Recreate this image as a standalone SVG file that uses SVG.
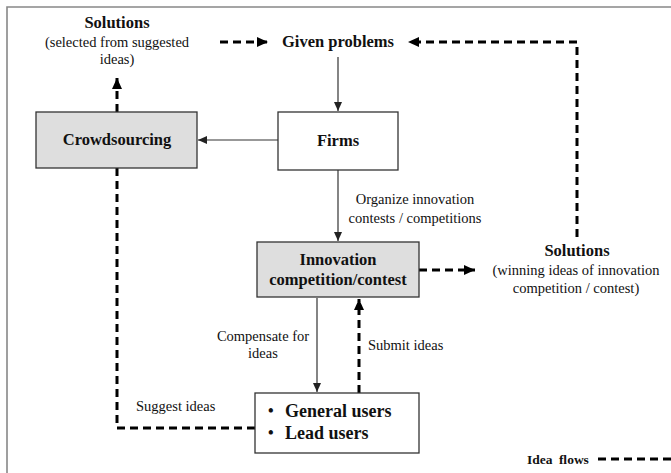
<svg xmlns="http://www.w3.org/2000/svg" width="671" height="473" viewBox="0 0 671 473" font-family="'Liberation Serif', 'Times New Roman', 'DejaVu Serif', serif">
<defs>
<marker id="solidHead" markerWidth="10" markerHeight="10" refX="9" refY="5" orient="auto" markerUnits="userSpaceOnUse">
<path d="M0,1 L9,5 L0,9 Z" fill="#222"/>
</marker>
<marker id="dashHead" markerWidth="12" markerHeight="12" refX="11" refY="6" orient="auto" markerUnits="userSpaceOnUse">
<path d="M0,1 L11,6 L0,11 Z" fill="#000"/>
</marker>
</defs>
<style>
text{fill:#111;}
.b{font-weight:bold;font-size:16.5px;}
.r{font-size:14.5px;}
.box{stroke:#333;stroke-width:1.3;}
.grey{fill:#dedede;}
.white{fill:#fff;}
.solid{stroke:#333;stroke-width:1.2;fill:none;marker-end:url(#solidHead);}
.dash{stroke:#000;stroke-width:3;stroke-dasharray:8,5;fill:none;}
.dasharrow{marker-end:url(#dashHead);}
</style>
<rect width="671" height="473" fill="#fff"/>
<path d="M7,474 V7 H672" fill="none" stroke="#888" stroke-width="1.6"/>

<g id="connectors">
<line class="solid" x1="338" y1="57" x2="338" y2="111"/>
<line class="solid" x1="278" y1="140" x2="198" y2="140"/>
<line class="solid" x1="338" y1="170" x2="338" y2="241"/>
<line class="solid" x1="317" y1="298" x2="317" y2="392"/>
<path class="dash dasharrow" d="M117,112 V78"/>
<path class="dash dasharrow" d="M220,42 H268"/>
<path class="dash dasharrow" d="M577,237 V42 H408"/>
<path class="dash dasharrow" d="M419,270 H475"/>
<path class="dash dasharrow" d="M359,393 V299"/>
<path class="dash" d="M255,428 H117 V168"/>
<text class="r" x="263" y="341" text-anchor="middle">Compensate for</text>
<text class="r" x="263" y="358" text-anchor="middle">ideas</text>
<text class="r" x="368" y="350">Submit ideas</text>
<text class="r" x="136" y="411">Suggest ideas</text>
<text class="r" x="415" y="204" text-anchor="middle">Organize innovation</text>
<text class="r" x="415" y="223" text-anchor="middle">contests / competitions</text>
</g>

<g id="solutions-left">
<text class="b" x="117" y="28" text-anchor="middle">Solutions</text>
<text class="r" x="117" y="47" text-anchor="middle">(selected from suggested</text>
<text class="r" x="117" y="64" text-anchor="middle">ideas)</text>
</g>

<g id="given-problems">
<text class="b" x="338" y="47" text-anchor="middle">Given problems</text>
</g>

<g id="crowdsourcing">
<rect class="box grey" x="36" y="112" width="161" height="56"/>
<text class="b" x="117" y="145" text-anchor="middle">Crowdsourcing</text>
</g>

<g id="firms">
<rect class="box white" x="278" y="112" width="120" height="58"/>
<text class="b" x="338" y="146" text-anchor="middle">Firms</text>
</g>

<g id="innovation">
<rect class="box grey" x="257" y="242" width="162" height="55"/>
<text class="b" x="338" y="265" text-anchor="middle">Innovation</text>
<text class="b" x="338" y="285" text-anchor="middle">competition/contest</text>
</g>

<g id="solutions-right">
<text class="b" x="577" y="256" text-anchor="middle">Solutions</text>
<text class="r" x="576" y="275" text-anchor="middle">(winning ideas of innovation</text>
<text class="r" x="576" y="293" text-anchor="middle">competition / contest)</text>
</g>

<g id="users">
<rect class="box white" x="255" y="393" width="164" height="60"/>
<text x="268" y="416" style="font-size:16px;font-weight:bold">•</text>
<text x="285" y="417" style="font-size:18px;font-weight:bold">General users</text>
<text x="268" y="438" style="font-size:16px;font-weight:bold">•</text>
<text x="285" y="439" style="font-size:18px;font-weight:bold">Lead users</text>
</g>

<g id="legend">
<text x="527" y="464" style="font-size:13.5px;font-weight:bold;word-spacing:3px">Idea flows</text>
<path class="dash" d="M598,459 H675"/>
</g>
</svg>
